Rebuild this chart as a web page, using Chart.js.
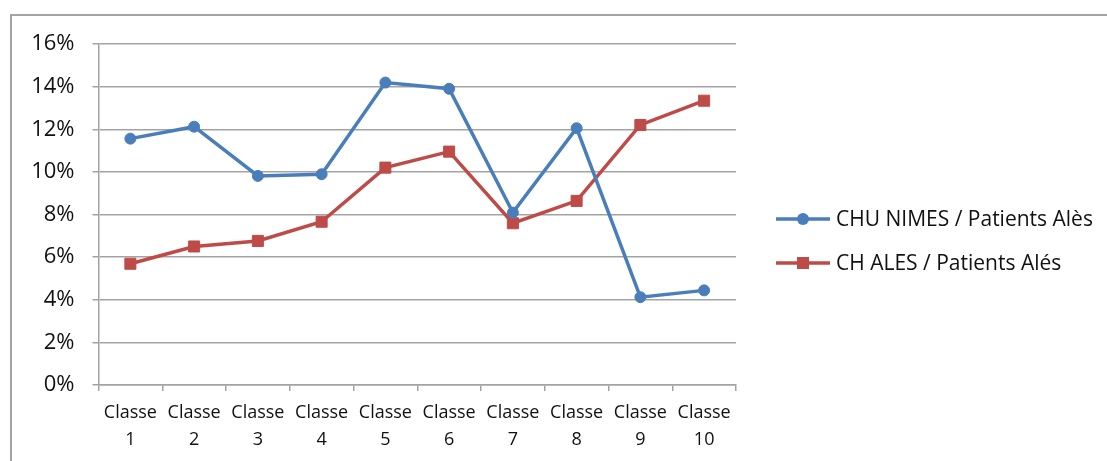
<!DOCTYPE html>
<html>
<head>
<meta charset="utf-8">
<script src="https://cdn.jsdelivr.net/npm/chart.js@4/dist/chart.umd.min.js"></script>
<style>
  html, body { margin: 0; padding: 0; background: #fff; }
  #wrap { position: relative; width: 1107px; height: 461px; overflow: hidden; }
  #frame { position: absolute; left: 10px; top: 14px; width: 1200px; height: 600px;
           border-left: 2px solid #a3a3a3; border-top: 2px solid #a3a3a3; box-sizing: border-box; }
  canvas { position: absolute; left: 0; top: 0; }
</style>
</head>
<body>
<div id="wrap">
  <div id="frame"></div>
  <canvas id="c" width="1107" height="461"></canvas>
</div>
<script>
const categories = [
  ['Classe', '1'], ['Classe', '2'], ['Classe', '3'], ['Classe', '4'], ['Classe', '5'],
  ['Classe', '6'], ['Classe', '7'], ['Classe', '8'], ['Classe', '9'], ['Classe', '10']
];
const seriesNames = ['CHU NIMES / Patients Alès', 'CH ALES / Patients Alés'];
const chuNimes = [11.56, 12.12, 9.81, 9.89, 14.19, 13.90, 8.09, 12.05, 4.12, 4.44];
const chAles   = [5.69, 6.50, 6.76, 7.66, 10.20, 10.95, 7.59, 8.64, 12.20, 13.34];
const yTicks = [0, 2, 4, 6, 8, 10, 12, 14, 16];

const FONT = "'Open Sans', 'Liberation Sans', sans-serif";
const GRID = '#a3a3a3';
const BLUE = '#4A7EBB';
const RED = '#BE4B48';

const legendPlugin = {
  id: 'sideLegend',
  afterDraw(chart) {
    const ctx = chart.ctx;
    const items = chart.data.datasets;
    const x0 = 776, x1 = 830, tx = 836;
    const ys = [219, 263];
    ctx.save();
    items.forEach((ds, i) => {
      const y = ys[i];
      ctx.strokeStyle = ds.borderColor;
      ctx.lineWidth = 3.5;
      ctx.beginPath();
      ctx.moveTo(x0, y);
      ctx.lineTo(x1, y);
      ctx.stroke();
      ctx.fillStyle = ds.pointBackgroundColor;
      if (ds.pointStyle === 'rect') {
        ctx.fillRect((x0 + x1) / 2 - 6, y - 6, 12, 12);
      } else {
        ctx.beginPath();
        ctx.arc((x0 + x1) / 2, y, 6, 0, Math.PI * 2);
        ctx.fill();
      }
      ctx.fillStyle = '#111';
      ctx.font = '21px ' + FONT;
      ctx.textBaseline = 'middle';
      ctx.textAlign = 'left';
      ctx.fillText(ds.label, tx, y + 1);
    });
    ctx.restore();
  }
};

new Chart(document.getElementById('c'), {
  type: 'line',
  data: {
    labels: categories,
    datasets: [
      {
        label: seriesNames[0],
        data: chuNimes,
        borderColor: BLUE,
        backgroundColor: BLUE,
        pointBackgroundColor: BLUE,
        pointBorderColor: BLUE,
        pointStyle: 'circle',
        pointRadius: 5.5,
        pointBorderWidth: 1,
        borderWidth: 3.5,
        tension: 0
      },
      {
        label: seriesNames[1],
        data: chAles,
        borderColor: RED,
        backgroundColor: RED,
        pointBackgroundColor: RED,
        pointBorderColor: RED,
        pointStyle: 'rect',
        pointRadius: 7.8,
        pointBorderWidth: 1,
        borderWidth: 3.5,
        tension: 0
      }
    ]
  },
  options: {
    responsive: false,
    animation: false,
    devicePixelRatio: 1,
    layout: { padding: { left: 0, top: 44, right: 371, bottom: 0 } },
    plugins: {
      legend: { display: false },
      tooltip: { enabled: false }
    },
    scales: {
      x: {
        type: 'category',
        offset: true,
        afterFit(s) { s.height = 76; },
        grid: {
          offset: true,
          drawOnChartArea: false,
          drawTicks: true,
          tickLength: 6,
          color: GRID,
          lineWidth: 1.5
        },
        border: { display: true, color: GRID, width: 1.5 },
        ticks: {
          maxRotation: 0,
          autoSkip: false,
          padding: 8,
          color: '#111',
          font: { family: FONT, size: 18, lineHeight: 1.5 }
        }
      },
      y: {
        min: 0,
        max: 16,
        afterFit(s) { s.width = 98.5; },
        afterBuildTicks(s) { s.ticks = yTicks.map(v => ({ value: v })); },
        grid: {
          color: GRID,
          lineWidth: 1.5,
          tickLength: 6,
          drawTicks: true
        },
        border: { display: true, color: GRID, width: 1.5 },
        ticks: {
          padding: 18,
          color: '#111',
          font: { family: FONT, size: 22 },
          callback: (v) => v + '%'
        }
      }
    }
  },
  plugins: [legendPlugin]
});
</script>
</body>
</html>
